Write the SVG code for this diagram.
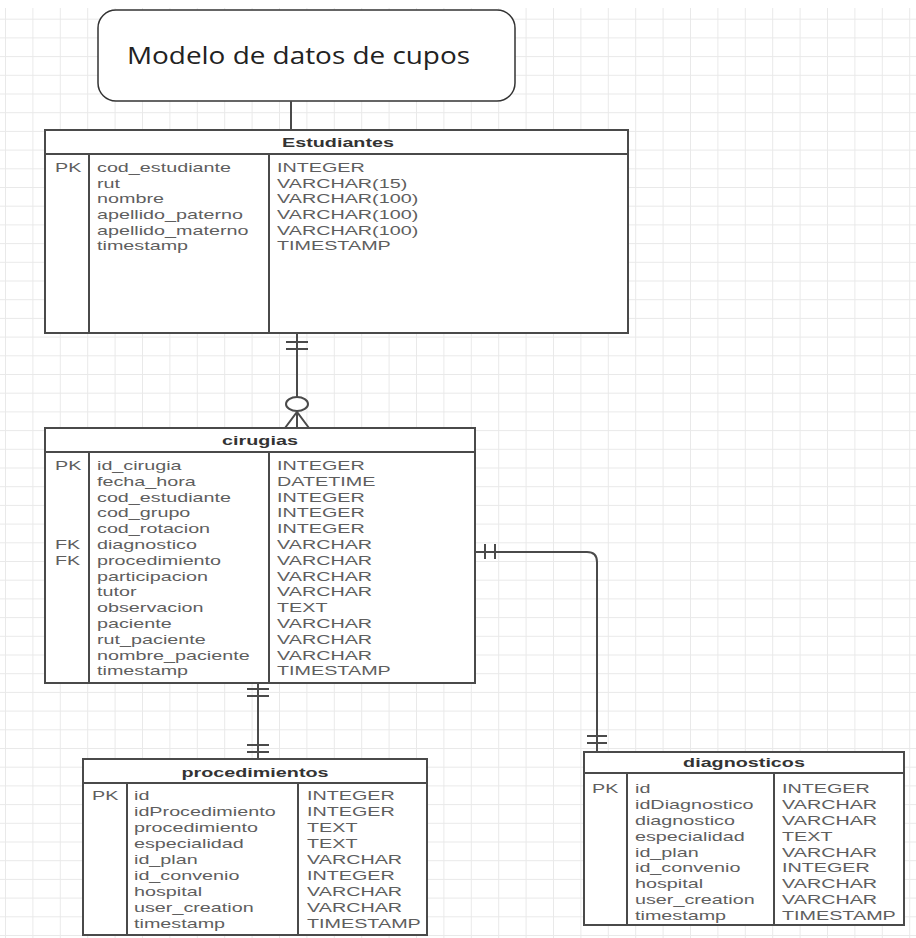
<svg xmlns="http://www.w3.org/2000/svg" width="916" height="938" viewBox="0 0 916 938">
  <defs>
    <!-- faint drawing-canvas grid -->
    <pattern id="grid" x="5" y="0" width="27.4" height="18.7" patternUnits="userSpaceOnUse">
      <path d="M0 0.5 H27.4 M0.5 0 V18.7" fill="none" stroke="#e9e9e9" stroke-width="1"/>
    </pattern>
    <style>
      .frame { fill: #ffffff; stroke: #4a4a4a; stroke-width: 2; }
      .rule { stroke: #4a4a4a; stroke-width: 2; fill: none; }
      .t { font-family: "Liberation Sans", Arial, sans-serif; font-size: 13px; fill: #5e5e5e; }
      .h { font-family: "Liberation Sans", Arial, sans-serif; font-size: 13px; font-weight: bold; fill: #333333; text-anchor: middle; }
      .conn { fill: none; stroke: #4a4a4a; stroke-width: 2; }
      .tick { stroke: #4a4a4a; stroke-width: 2; }
      .title { font-family: "Open Sans", "Liberation Sans", sans-serif; font-size: 24px; fill: #222222; text-anchor: middle; }
    </style>
  </defs>

  <rect x="0" y="0" width="916" height="938" fill="#ffffff"/>
  <rect x="0" y="8" width="916" height="930" fill="url(#grid)"/>

  <!-- title box -->
  <g id="title">
    <rect x="98" y="10" width="417" height="91" rx="18" ry="18" fill="#ffffff" stroke="#333333" stroke-width="1.5"/>
    <text class="title" x="298.5" y="64" textLength="343" lengthAdjust="spacingAndGlyphs">Modelo de datos de cupos</text>
  </g>

  <!-- connectors -->
  <g id="connectors">
    <line class="conn" x1="291" y1="101" x2="291" y2="130" stroke-width="1.5"/>

    <!-- Estudiantes (one) to cirugias (zero or many) -->
    <line class="conn" x1="297" y1="333" x2="297" y2="397"/>
    <line class="tick" x1="286" y1="342" x2="308" y2="342"/>
    <line class="tick" x1="286" y1="349" x2="308" y2="349"/>
    <ellipse cx="297" cy="404" rx="11" ry="7" fill="#ffffff" stroke="#4a4a4a" stroke-width="2"/>
    <path class="conn" d="M285 428 L297 412 L309 428 M297 412 V428"/>

    <!-- cirugias to procedimientos (one to one) -->
    <line class="conn" x1="258" y1="683" x2="258" y2="759"/>
    <line class="tick" x1="247" y1="689" x2="269" y2="689"/>
    <line class="tick" x1="247" y1="696" x2="269" y2="696"/>
    <line class="tick" x1="247" y1="745" x2="269" y2="745"/>
    <line class="tick" x1="247" y1="752" x2="269" y2="752"/>

    <!-- cirugias to diagnosticos (one to one) -->
    <path class="conn" d="M475 552 H587 Q597 552 597 562 V752"/>
    <line class="tick" x1="485" y1="544" x2="485" y2="559"/>
    <line class="tick" x1="495" y1="544" x2="495" y2="559"/>
    <line class="tick" x1="587" y1="736" x2="607" y2="736"/>
    <line class="tick" x1="587" y1="743" x2="607" y2="743"/>
  </g>

  <!-- Estudiantes -->
  <g id="estudiantes">
    <rect class="frame" x="45" y="130" width="583" height="203"/>
    <path class="rule" d="M45 154 H628 M89 154 V333 M269 154 V333"/>
    <g transform="translate(338 0) scale(1.52 1)"><text class="h" x="0" y="147">Estudiantes</text></g>
    <g transform="translate(55 0) scale(1.52 1)"><text class="t" x="0" y="172">PK</text></g>
    <g transform="translate(97 0) scale(1.52 1)">
      <text class="t" x="0" y="172">cod_estudiante</text>
      <text class="t" x="0" y="187.7">rut</text>
      <text class="t" x="0" y="203.4">nombre</text>
      <text class="t" x="0" y="219.1">apellido_paterno</text>
      <text class="t" x="0" y="234.8">apellido_materno</text>
      <text class="t" x="0" y="250.5">timestamp</text>
    </g>
    <g transform="translate(277 0) scale(1.52 1)">
      <text class="t" x="0" y="172">INTEGER</text>
      <text class="t" x="0" y="187.7">VARCHAR(15)</text>
      <text class="t" x="0" y="203.4">VARCHAR(100)</text>
      <text class="t" x="0" y="219.1">VARCHAR(100)</text>
      <text class="t" x="0" y="234.8">VARCHAR(100)</text>
      <text class="t" x="0" y="250.5">TIMESTAMP</text>
    </g>
  </g>

  <!-- cirugias -->
  <g id="cirugias">
    <rect class="frame" x="45" y="428" width="430" height="255"/>
    <path class="rule" d="M45 452 H475 M89 452 V683 M269 452 V683"/>
    <g transform="translate(260 0) scale(1.52 1)"><text class="h" x="0" y="445">cirugias</text></g>
    <g transform="translate(55 0) scale(1.52 1)">
      <text class="t" x="0" y="470">PK</text>
      <text class="t" x="0" y="549">FK</text>
      <text class="t" x="0" y="564.8">FK</text>
    </g>
    <g transform="translate(97 0) scale(1.52 1)">
      <text class="t" x="0" y="470">id_cirugia</text>
      <text class="t" x="0" y="485.8">fecha_hora</text>
      <text class="t" x="0" y="501.6">cod_estudiante</text>
      <text class="t" x="0" y="517.4">cod_grupo</text>
      <text class="t" x="0" y="533.2">cod_rotacion</text>
      <text class="t" x="0" y="549">diagnostico</text>
      <text class="t" x="0" y="564.8">procedimiento</text>
      <text class="t" x="0" y="580.6">participacion</text>
      <text class="t" x="0" y="596.4">tutor</text>
      <text class="t" x="0" y="612.2">observacion</text>
      <text class="t" x="0" y="628">paciente</text>
      <text class="t" x="0" y="643.8">rut_paciente</text>
      <text class="t" x="0" y="659.6">nombre_paciente</text>
      <text class="t" x="0" y="675.4">timestamp</text>
    </g>
    <g transform="translate(277 0) scale(1.52 1)">
      <text class="t" x="0" y="470">INTEGER</text>
      <text class="t" x="0" y="485.8">DATETIME</text>
      <text class="t" x="0" y="501.6">INTEGER</text>
      <text class="t" x="0" y="517.4">INTEGER</text>
      <text class="t" x="0" y="533.2">INTEGER</text>
      <text class="t" x="0" y="549">VARCHAR</text>
      <text class="t" x="0" y="564.8">VARCHAR</text>
      <text class="t" x="0" y="580.6">VARCHAR</text>
      <text class="t" x="0" y="596.4">VARCHAR</text>
      <text class="t" x="0" y="612.2">TEXT</text>
      <text class="t" x="0" y="628">VARCHAR</text>
      <text class="t" x="0" y="643.8">VARCHAR</text>
      <text class="t" x="0" y="659.6">VARCHAR</text>
      <text class="t" x="0" y="675.4">TIMESTAMP</text>
    </g>
  </g>

  <!-- procedimientos -->
  <g id="procedimientos">
    <rect class="frame" x="83" y="759" width="344" height="176"/>
    <path class="rule" d="M83 783 H427 M127 783 V935 M298 783 V935"/>
    <g transform="translate(255 0) scale(1.52 1)"><text class="h" x="0" y="777">procedimientos</text></g>
    <g transform="translate(92 0) scale(1.52 1)"><text class="t" x="0" y="800.5">PK</text></g>
    <g transform="translate(134 0) scale(1.52 1)">
      <text class="t" x="0" y="800.5">id</text>
      <text class="t" x="0" y="816.4">idProcedimiento</text>
      <text class="t" x="0" y="832.3">procedimiento</text>
      <text class="t" x="0" y="848.2">especialidad</text>
      <text class="t" x="0" y="864.1">id_plan</text>
      <text class="t" x="0" y="880">id_convenio</text>
      <text class="t" x="0" y="895.9">hospital</text>
      <text class="t" x="0" y="911.8">user_creation</text>
      <text class="t" x="0" y="927.7">timestamp</text>
    </g>
    <g transform="translate(307 0) scale(1.52 1)">
      <text class="t" x="0" y="800.5">INTEGER</text>
      <text class="t" x="0" y="816.4">INTEGER</text>
      <text class="t" x="0" y="832.3">TEXT</text>
      <text class="t" x="0" y="848.2">TEXT</text>
      <text class="t" x="0" y="864.1">VARCHAR</text>
      <text class="t" x="0" y="880">INTEGER</text>
      <text class="t" x="0" y="895.9">VARCHAR</text>
      <text class="t" x="0" y="911.8">VARCHAR</text>
      <text class="t" x="0" y="927.7">TIMESTAMP</text>
    </g>
  </g>

  <!-- diagnosticos -->
  <g id="diagnosticos">
    <rect class="frame" x="584" y="752" width="320" height="173"/>
    <path class="rule" d="M584 773 H904 M627 773 V925 M774 773 V925"/>
    <g transform="translate(744 0) scale(1.52 1)"><text class="h" x="0" y="767">diagnosticos</text></g>
    <g transform="translate(592 0) scale(1.52 1)"><text class="t" x="0" y="793">PK</text></g>
    <g transform="translate(635 0) scale(1.52 1)">
      <text class="t" x="0" y="793">id</text>
      <text class="t" x="0" y="808.9">idDiagnostico</text>
      <text class="t" x="0" y="824.8">diagnostico</text>
      <text class="t" x="0" y="840.7">especialidad</text>
      <text class="t" x="0" y="856.6">id_plan</text>
      <text class="t" x="0" y="872.5">id_convenio</text>
      <text class="t" x="0" y="888.4">hospital</text>
      <text class="t" x="0" y="904.3">user_creation</text>
      <text class="t" x="0" y="920.2">timestamp</text>
    </g>
    <g transform="translate(782 0) scale(1.52 1)">
      <text class="t" x="0" y="793">INTEGER</text>
      <text class="t" x="0" y="808.9">VARCHAR</text>
      <text class="t" x="0" y="824.8">VARCHAR</text>
      <text class="t" x="0" y="840.7">TEXT</text>
      <text class="t" x="0" y="856.6">VARCHAR</text>
      <text class="t" x="0" y="872.5">INTEGER</text>
      <text class="t" x="0" y="888.4">VARCHAR</text>
      <text class="t" x="0" y="904.3">VARCHAR</text>
      <text class="t" x="0" y="920.2">TIMESTAMP</text>
    </g>
  </g>
</svg>
